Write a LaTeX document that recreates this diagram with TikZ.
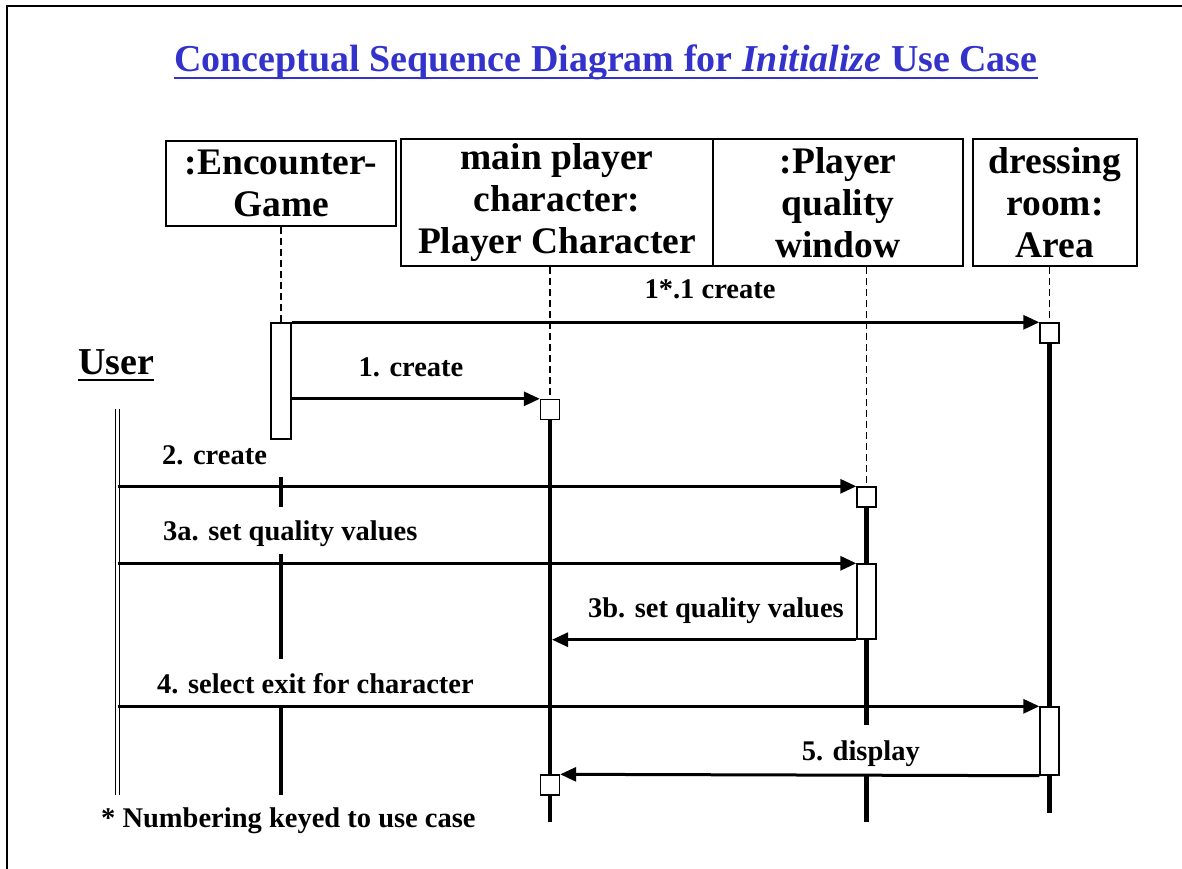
\documentclass[tikz,border=0pt]{standalone}
\usepackage{fontspec}
\setmainfont{Liberation Serif}
\usetikzlibrary{arrows.meta}
\definecolor{titleblue}{RGB}{51,51,204}

\begin{document}
\begin{tikzpicture}[x=1pt,y=-1pt,obj/.style={draw, line width=1.6pt, align=center, inner sep=0pt, font=\fontsize{37.5}{42}\selectfont\bfseries},act/.style={draw, fill=white, line width=1.4pt, inner sep=0pt, minimum width=19pt},newbox/.style={act, minimum height=20pt},msg/.style={line width=3pt, -{Triangle[length=16pt,width=14pt]}},lbl/.style={inner sep=0pt, font=\fontsize{28.5}{30}\selectfont\bfseries},life/.style={line width=4.2pt},dashlife/.style={line width=1.4pt, dash pattern=on 7pt off 4pt}]
\useasboundingbox (0,0) rectangle (1182,869);
\draw[line width=2.5pt] (7,869) -- (7,6) -- (1182,6);
\node[anchor=base, inner sep=0pt, text=titleblue, font=\fontsize{38}{40}\selectfont\bfseries] (title) at (606,72) {Conceptual Sequence Diagram for \textit{Initialize} Use Case};
\draw[titleblue, line width=2.6pt] ([yshift=-6pt]title.base west) -- ([yshift=-6pt]title.base east);
% objects
\node[obj, minimum width=230pt, minimum height=85pt] (encBox) at (281,183.5) {:Encounter-\\Game};
\node[obj, minimum width=312pt, minimum height=127pt] (mainBox) at (557,202.5) {main player\\character:\\Player Character};
\node[obj, minimum width=250pt, minimum height=127pt] (winBox) at (838,202.5) {:Player\\quality\\window};
\node[obj, minimum width=164pt, minimum height=127pt] (roomBox) at (1055,202.5) {dressing\\room:\\Area};
\node[anchor=base west, inner sep=0pt, font=\fontsize{38}{40}\selectfont\bfseries] (user) at (78,374) {User};
\draw[line width=2pt] ([yshift=-6pt]user.base west) -- ([yshift=-6pt]user.base east);
\coordinate (userTop) at (117.5,409);
\coordinate (userBot) at (117.5,795);
\draw[double, double distance=2.2pt, line width=1pt] (userTop) -- (userBot);
% activations
\node[act, minimum width=20pt, minimum height=116pt] (encAct) at (281,381) {};
\node[newbox] (roomNew) at (1049.5,333) {};
\node[newbox] (mainNew) at (550,409.5) {};
\node[newbox] (winNew) at (866.5,497) {};
\node[act, minimum height=75pt] (winAct) at (866.5,601.5) {};
\node[act, minimum height=68pt] (roomAct) at (1049.5,741) {};
\node[newbox] (mainEnd) at (550,785) {};
% lifelines
\draw[dashlife] (encBox.south) -- (encAct.north);
\draw[dashlife] (mainNew |- mainBox.south) -- (mainNew.north);
\draw[dashlife] (winNew |- winBox.south) -- (winNew.north);
\draw[dashlife] (roomNew |- roomBox.south) -- (roomNew.north);
\draw[life] (281,477) -- (281,507) (281,554) -- (281,659) (281,707) -- (281,795);
\draw[life] (mainNew.south) -- (mainEnd.north) (mainEnd.south) -- (550,822);
\draw[life] (winNew.south) -- (winAct.north) (winAct.south) -- (866.5,725) (866.5,775) -- (866.5,822);
\draw[life] (roomNew.south) -- (roomAct.north) (roomAct.south) -- (1049.5,813);
% messages
\draw[msg] (encAct.north east) -- (roomNew.north west);
\draw[msg] (encAct.east |- mainNew.north west) -- (mainNew.north west);
\draw[msg] (userTop |- winNew.north west) -- (winNew.north west);
\draw[msg] (userTop |- winAct.north west) -- (winAct.north west);
\draw[msg] (winAct.south west) -- ([xshift=2pt]mainNew.south |- winAct.south west);
\draw[msg] (userTop |- roomAct.north west) -- (roomAct.north west);
\draw[msg] (roomAct.south west) -- (mainEnd.north east);
\node[lbl, anchor=base] (l11) at (710,298) {1*.1 create};
\node[lbl, anchor=base] (l1) at (411,376) {1. create};
\node[lbl, anchor=base west] (l2) at (162,464) {2. create};
\node[lbl, anchor=base west] (l3a) at (163,540) {3a. set quality values};
\node[lbl, anchor=base east] (l3b) at (844,617) {3b. set quality values};
\node[lbl, anchor=base west] (l4) at (157,693) {4. select exit for character};
\node[lbl, anchor=base east] (l5) at (920,760) {5. display};
\node[lbl, anchor=base west] (note) at (101,827) {* Numbering keyed to use case};
\end{tikzpicture}
\end{document}
